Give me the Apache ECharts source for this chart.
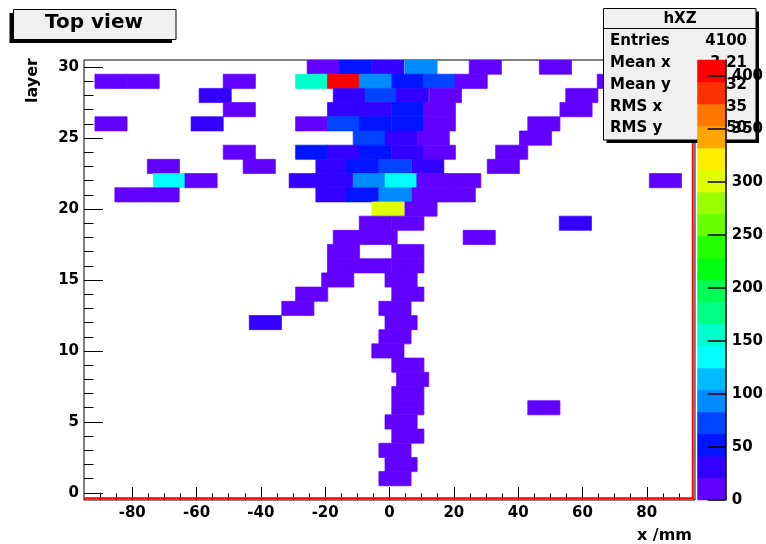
<!DOCTYPE html>
<html><head><meta charset="utf-8">
<script src="https://cdn.jsdelivr.net/npm/echarts@6/dist/echarts.min.js"></script>
<style>html,body{margin:0;padding:0;background:#fff}#c{width:766px;height:544px}</style>
</head><body><div id="c"></div>
<script>
// ---- data ----
// one entry per filled pad: layer index, low x edge (mm), content
const layers = [
  30,30,30,30,30,30,
  29,29,29,29,29,29,29,29,29,29,
  28,28,28,28,28,28,
  27,27,27,27,27,27,
  26,26,26,26,26,26,26,26,
  25,25,25,25,
  24,24,24,24,24,24,24,
  23,23,23,23,23,23,23,
  22,22,22,22,22,22,22,22,22,
  21,21,21,21,21,21,21,
  20,20,
  19,19,19,
  18,18,18,
  17,17,
  16,16,16,
  15,15,
  14,14,
  13,13,
  12,12,
  11,10,9,8,7,
  6,6,
  5,4,3,2,1
];
const xLows = [
  -25.6,-15.6,-5.5,4.8,24.8,46.6,
  -91.6,-81.6,-51.7,-29.2,-19.3,-9.4,0.7,10.5,20.4,64.6,
  -59.2,-17.5,-7.6,2.2,12.4,54.8,
  -51.7,-19.3,-9.4,0.7,10.5,53.0,
  -91.6,-61.7,-29.2,-19.3,-9.4,0.7,10.5,43.0,
  -11.3,-1.4,8.6,40.4,
  -51.7,-29.2,-19.3,-9.4,0.7,10.5,33.0,
  -75.3,-45.5,-22.9,-13.3,-3.3,6.9,30.4,
  -73.4,-63.6,-31.2,-21.3,-11.3,-1.4,8.5,18.4,80.8,
  -85.4,-75.4,-22.9,-13.3,-3.3,6.9,16.7,
  -5.5,4.8,
  -9.4,0.7,52.8,
  -17.5,-7.6,22.9,
  -19.3,0.7,
  -19.3,-9.4,0.7,
  -21.1,-1.4,
  -29.2,0.7,
  -33.5,-3.3,
  -43.6,-1.4,
  -3.3,-5.5,0.7,2.2,0.7,
  0.7,43.0,
  -1.4,0.7,-3.3,-1.4,-3.3
];
const counts = [
  9,52,31,93,9,9,
  9,9,9,156,410,93,52,72,9,9,
  31,31,72,31,9,9,
  9,31,31,52,9,9,
  9,31,9,72,52,52,9,9,
  72,31,9,9,
  9,52,31,52,31,9,9,
  9,9,31,52,72,31,9,
  136,9,31,31,93,136,9,9,9,
  9,9,31,52,93,9,9,
  301,9,
  9,9,31,
  9,9,9,
  9,9,
  9,9,9,
  9,9,
  9,9,
  9,9,
  31,9,
  9,9,9,9,9,
  9,9,
  9,9,9,9,9
];
const padWidth = 10;          // mm, pad size along x
const xRange = [-95, 95];
const yRange = [-0.5, 30.5];
const xTicks = [-80,-60,-40,-20,0,20,40,60,80];
const xMinorTicks = [-90,-85,-75,-70,-65,-55,-50,-45,-35,-30,-25,-15,-10,-5,5,10,15,25,30,35,45,50,55,65,70,75,85,90];
const yTicks = [0,5,10,15,20,25,30];
const yMinorTicks = [0,1,2,3,4,5,6,7,8,9,10,11,12,13,14,15,16,17,18,19,20,21,22,23,24,25,26,27,28,29,30];
const zTicks = [0,50,100,150,200,250,300,350,400];
const zMax = 415;
const nContours = 20;
const palette = ['#6200FF','#3300FF','#0014FF','#0044FF','#008BFF','#00BBFF','#00FFFC','#00FFCC','#00FF85','#00FF55',
                 '#00FF0E','#22FF00','#69FF00','#99FF00','#E0FF00','#FFEE00','#FFA700','#FF7700','#FF3000','#FF0000'];
const histName = 'hXZ';
const statsLabels = ['Entries','Mean x','Mean y','RMS x','RMS y'];
const statsValues = ['4100','-3.21','25.32','11.35','2.850'];
const titleText = 'Top view';
const xTitle = 'x /mm';
const yTitle = 'layer';

// ---- build ----
const FONT = '"DejaVu Sans", "Liberation Sans", sans-serif';
const cells = layers.map((l, i) => [xLows[i], xLows[i] + padWidth, l, counts[i]]);
const bands = palette.map((c, i) => [0, 1, i * zMax / nContours, (i + 1) * zMax / nContours, i]);
const lbl = { fontFamily: FONT, fontWeight: 'bold', fontSize: 15, color: '#000' };

const chart = echarts.init(document.getElementById('c'), null, { renderer: 'canvas' });
const statsY = [41.5, 63, 85, 107, 128];
const graphics = [
  // title box
  { type: 'rect', z: 60, shape: { x: 9.5, y: 13, width: 162.5, height: 30 }, style: { fill: '#000' } },
  { type: 'rect', z: 61, shape: { x: 13.5, y: 9.5, width: 162.5, height: 30 }, style: { fill: '#f0f0f0', stroke: '#000', lineWidth: 1 } },
  { type: 'text', z: 62, x: 94, y: 23, style: { text: titleText, font: 'bold 20px ' + FONT, fill: '#000', align: 'center', verticalAlign: 'middle' } },
  // axis titles
  { type: 'text', z: 62, x: 33, y: 58, rotation: Math.PI / 2, style: { text: yTitle, font: 'bold 16px ' + FONT, fill: '#000', align: 'right', verticalAlign: 'middle' } },
  { type: 'text', z: 62, x: 692, y: 536, style: { text: xTitle, font: 'bold 16px ' + FONT, fill: '#000', align: 'right', verticalAlign: 'middle' } },
  // red histogram outline
  { type: 'line', z: 30, shape: { x1: 84, y1: 498.3, x2: 694, y2: 498.3 }, style: { stroke: '#ff0000', lineWidth: 2 } },
  { type: 'line', z: 30, shape: { x1: 692.8, y1: 60, x2: 692.8, y2: 499 }, style: { stroke: '#ff0000', lineWidth: 2 } },
  // stats box
  { type: 'rect', z: 50, shape: { x: 606.5, y: 11.5, width: 152.5, height: 131.5 }, style: { fill: '#000' } },
  { type: 'rect', z: 51, shape: { x: 603.5, y: 8.5, width: 152.5, height: 131.5 }, style: { fill: '#f0f0f0', stroke: '#000', lineWidth: 1 } },
  { type: 'line', z: 52, shape: { x1: 603.5, y1: 28.5, x2: 756, y2: 28.5 }, style: { stroke: '#000', lineWidth: 1 } },
  { type: 'text', z: 52, x: 680, y: 19, style: { text: histName, font: 'bold 15px ' + FONT, fill: '#000', align: 'center', verticalAlign: 'middle' } }
];
statsLabels.forEach((s, i) => {
  graphics.push({ type: 'text', z: 52, x: 610, y: statsY[i], style: { text: s, font: 'bold 15px ' + FONT, fill: '#000', align: 'left', verticalAlign: 'middle' } });
  graphics.push({ type: 'text', z: 52, x: 747, y: statsY[i], style: { text: statsValues[i], font: 'bold 15px ' + FONT, fill: '#000', align: 'right', verticalAlign: 'middle' } });
});

chart.setOption({
  animation: false,
  backgroundColor: '#fff',
  grid: [
    { left: 84, top: 60, width: 611, height: 440, show: true, borderColor: '#000', borderWidth: 1, backgroundColor: 'transparent' },
    { left: 697.5, top: 60, width: 34, height: 440, show: false }
  ],
  xAxis: [
    { gridIndex: 0, type: 'value', min: xRange[0], max: xRange[1], position: 'bottom',
      axisLine: { show: false, onZero: false }, splitLine: { show: false },
      axisTick: { inside: true, length: 13, customValues: xTicks, lineStyle: { color: '#000', width: 1 } },
      axisLabel: Object.assign({ customValues: xTicks, margin: 6 }, lbl) },
    { gridIndex: 0, type: 'value', min: xRange[0], max: xRange[1], position: 'bottom',
      axisLine: { show: false, onZero: false }, splitLine: { show: false },
      axisTick: { inside: true, length: 6.5, customValues: xMinorTicks, lineStyle: { color: '#000', width: 1 } },
      axisLabel: { show: false } },
    { gridIndex: 1, type: 'value', min: 0, max: 1, show: false }
  ],
  yAxis: [
    { gridIndex: 0, type: 'value', min: yRange[0], max: yRange[1], position: 'left',
      axisLine: { show: false, onZero: false }, splitLine: { show: false },
      axisTick: { inside: true, length: 19, customValues: yTicks, lineStyle: { color: '#000', width: 1 } },
      axisLabel: Object.assign({ customValues: yTicks, margin: 5 }, lbl) },
    { gridIndex: 0, type: 'value', min: yRange[0], max: yRange[1], position: 'left',
      axisLine: { show: false, onZero: false }, splitLine: { show: false },
      axisTick: { inside: true, length: 9.5, customValues: yMinorTicks, lineStyle: { color: '#000', width: 1 } },
      axisLabel: { show: false } },
    { gridIndex: 1, type: 'value', min: 0, max: zMax, position: 'right', z: 100,
      axisLine: { show: true, onZero: false, lineStyle: { color: '#000', width: 1.5 } }, splitLine: { show: false },
      axisTick: { inside: true, length: 18, customValues: zTicks, lineStyle: { color: '#000', width: 1.5 } },
      axisLabel: Object.assign({ customValues: zTicks, margin: 6 }, lbl) }
  ],
  series: [
    { type: 'custom', xAxisIndex: 0, yAxisIndex: 0, z: 2, clip: true,
      data: cells, encode: { x: [0, 1], y: 2 },
      renderItem: function (params, api) {
        const p0 = api.coord([api.value(0), api.value(2) + 0.5]);
        const p1 = api.coord([api.value(1), api.value(2) - 0.5]);
        const band = Math.min(nContours - 1, Math.floor(api.value(3) / zMax * nContours));
        return { type: 'rect', shape: { x: p0[0], y: p0[1], width: p1[0] - p0[0], height: p1[1] - p0[1] },
                 style: { fill: palette[band], stroke: palette[band], lineWidth: 0.7 } };
      } },
    { type: 'custom', xAxisIndex: 2, yAxisIndex: 2, z: 90, zlevel: 0,
      data: bands, encode: { x: [0, 1], y: [2, 3] },
      renderItem: function (params, api) {
        const p0 = api.coord([api.value(0), api.value(3)]);
        const p1 = api.coord([api.value(1), api.value(2)]);
        return { type: 'rect', shape: { x: p0[0], y: p0[1], width: p1[0] - p0[0], height: p1[1] - p0[1] },
                 style: { fill: palette[api.value(4)], stroke: palette[api.value(4)], lineWidth: 0.5 } };
      } }
  ],
  graphic: graphics
});
</script></body></html>
